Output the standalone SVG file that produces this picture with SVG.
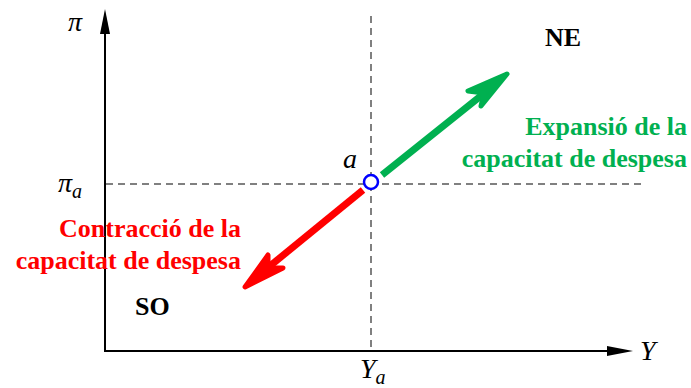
<svg xmlns="http://www.w3.org/2000/svg" width="691" height="388" viewBox="0 0 691 388">
<defs>
<style>
.axis{stroke:#000;stroke-width:2;fill:none}
.guide{stroke:#808080;stroke-width:2;stroke-dasharray:7,5;fill:none}
.ital{font-family:"Liberation Serif","DejaVu Serif",serif;font-style:italic;font-size:28px;fill:#000}
.sub{font-family:"Liberation Serif","DejaVu Serif",serif;font-style:italic;font-size:20px;fill:#000}
.lbl{font-family:"Liberation Serif","DejaVu Serif",serif;font-weight:bold;font-size:26px}
</style>
</defs>
<rect width="691" height="388" fill="#fff"/>
<g id="guides">
<line class="guide" x1="371" y1="16" x2="371" y2="350"/>
<line class="guide" x1="106" y1="184" x2="642" y2="184"/>
</g>
<g id="axes">
<line class="axis" x1="105" y1="352" x2="105" y2="30"/>
<polygon points="105,9 100,34 110,34" fill="#000"/>
<line class="axis" x1="104" y1="351" x2="612" y2="351"/>
<polygon points="633,351 607,346 607,356" fill="#000"/>
<text class="ital" x="68" y="31">π</text>
<text class="ital" x="640" y="360">Y</text>
</g>
<g id="connectors">
<line x1="382" y1="175" x2="487" y2="91" stroke="#00b050" stroke-width="7" stroke-linecap="butt"/>
<path d="M507,74 L468,91 L484,93 L481,106 Z" fill="#00b050" stroke="#00b050" stroke-width="5" stroke-linejoin="round"/>
<line x1="363" y1="190" x2="265" y2="270" stroke="#ff0000" stroke-width="7" stroke-linecap="butt"/>
<path d="M245,287 L268,255 L268,268 L283,268 Z" fill="#ff0000" stroke="#ff0000" stroke-width="5" stroke-linejoin="round"/>
</g>
<g id="point-a">
<circle cx="371" cy="182" r="7" fill="#fff" stroke="#0000ff" stroke-width="2.5"/>
<text class="ital" x="343" y="168">a</text>
</g>
<g id="pi-a">
<text class="ital" x="58" y="192">π<tspan class="sub" dy="6">a</tspan></text>
</g>
<g id="y-a">
<text class="ital" x="360" y="378">Y<tspan class="sub" dy="6">a</tspan></text>
</g>
<g id="NE"><text class="lbl" x="545" y="46" fill="#000">NE</text></g>
<g id="SO"><text class="lbl" x="135" y="315" fill="#000">SO</text></g>
<g id="expansio">
<text class="lbl" x="687" y="135" fill="#00b050" text-anchor="end">Expansió de la</text>
<text class="lbl" x="687" y="167" fill="#00b050" text-anchor="end">capacitat de despesa</text>
</g>
<g id="contraccio">
<text class="lbl" x="241" y="237" fill="#ff0000" text-anchor="end">Contracció de la</text>
<text class="lbl" x="241" y="269" fill="#ff0000" text-anchor="end">capacitat de despesa</text>
</g>
</svg>
